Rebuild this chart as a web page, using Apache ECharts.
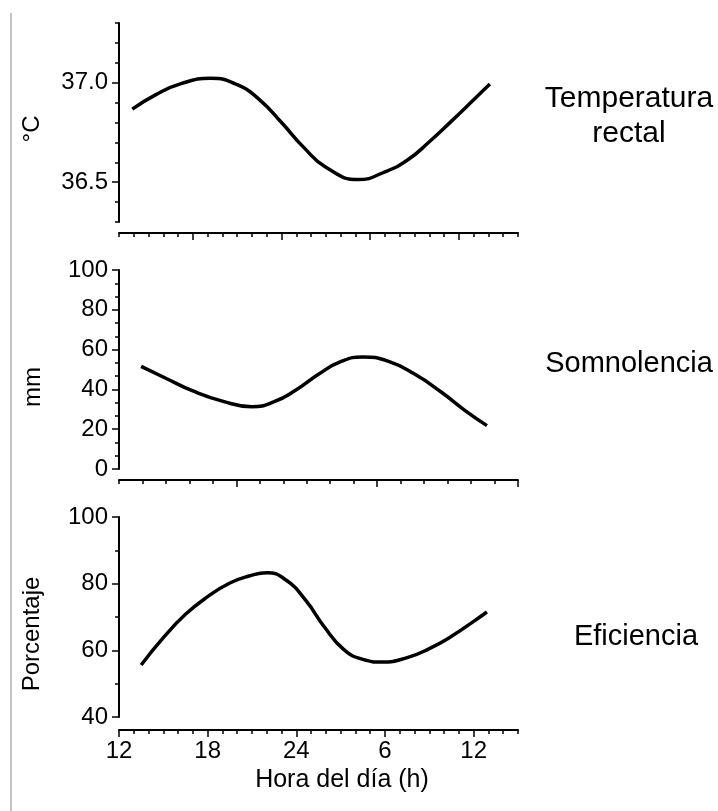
<!DOCTYPE html>
<html>
<head>
<meta charset="utf-8">
<title>Ritmos circadianos</title>
<script src="https://cdn.jsdelivr.net/npm/echarts@6/dist/echarts.min.js"></script>
<style>
  html, body { margin: 0; padding: 0; background: #fff; }
  #chart { width: 718px; height: 811px; }
</style>
</head>
<body>
<div id="chart"></div>
<script>
// horas del dia (12 = mediodia, 36 = 12 h del dia siguiente)
var tempHours = [12.9, 14.5, 16.2, 18.2, 20.0, 21.5, 23.0, 24.5, 26.0, 28.2, 30.0, 31.5, 33.0, 34.5, 36.0, 37.1];
var tempValues = [36.867, 36.94, 36.995, 37.022, 36.99, 36.915, 36.80, 36.675, 36.575, 36.513, 36.552, 36.61, 36.703, 36.807, 36.914, 36.993];

var somnHours = [13.5, 15.2, 17.0, 19.0, 21.0, 22.5, 24.0, 25.5, 27.0, 28.5, 30.2, 32.0, 33.8, 35.4, 36.9];
var somnValues = [51.6, 45.5, 39.2, 34.1, 31.3, 33.8, 39.8, 47.6, 53.9, 56.3, 54.2, 47.7, 38.7, 29.5, 21.8];

var efHours = [13.5, 15.0, 16.5, 18.0, 19.5, 20.8, 22.0, 23.3, 24.6, 25.9, 27.2, 28.5, 29.8, 31.5, 33.0, 34.5, 36.0, 36.9];
var efValues = [55.6, 63.8, 70.8, 76.1, 80.2, 82.3, 83.3, 81.1, 75.2, 67.0, 60.3, 57.3, 56.5, 57.8, 60.5, 64.2, 68.7, 71.5];

// ticks
var hourTicks = [12, 18, 24, 30, 36];
var tempMajorTicks = [36.5, 37.0];
var topMajorTicks = [17, 23, 29, 35];
var midMajorTicks = [5, 11, 17];

var font = "'Liberation Sans', Arial, sans-serif";
var black = "#000";

function pairs(xs, ys) {
  return xs.map(function (x, i) { return [x, ys[i]]; });
}

function minorX(grid, min, max, offset) {
  return {
    gridIndex: grid, type: "value", position: "bottom", min: min, max: max, interval: 1, offset: offset,
    axisLine: { show: true, onZero: false, lineStyle: { color: black, width: 2 } },
    axisTick: { show: true, length: 4, lineStyle: { color: black, width: 1.5 } },
    axisLabel: { show: false },
    splitLine: { show: false }
  };
}

function majorX(grid, min, max, offset, ticks, labels) {
  return {
    gridIndex: grid, type: "value", position: "bottom", min: min, max: max, offset: offset,
    axisLine: { show: false, onZero: false },
    axisTick: { show: true, customValues: ticks, length: 7, lineStyle: { color: black, width: 1.5 } },
    axisLabel: labels ? {
      show: true, customValues: ticks, margin: 9, fontSize: 24, fontFamily: font, color: black,
      formatter: function (v) { return String(v > 24 ? v - 24 : v); }
    } : { show: false },
    splitLine: { show: false }
  };
}

var chart = echarts.init(document.getElementById("chart"));

var option = {
  animation: false,
  backgroundColor: "#fff",
  grid: [
    { left: 119, width: 399, top: 23, height: 199 },
    { left: 119, width: 399, top: 270, height: 199 },
    { left: 119, width: 399, top: 517, height: 200 }
  ],
  xAxis: [
    minorX(0, 12, 39, 11),
    majorX(0, 12, 39, 11, topMajorTicks, false),
    { gridIndex: 1, type: "value", min: 12, max: 39, show: false },
    minorX(1, 0, 17, 11),
    majorX(1, 0, 17, 11, midMajorTicks, false),
    minorX(2, 12, 39, 13),
    majorX(2, 12, 39, 13, hourTicks, true)
  ],
  yAxis: [
    {
      gridIndex: 0, type: "value", min: 36.3, max: 37.3, interval: 0.1,
      axisLine: { show: true, onZero: false, lineStyle: { color: black, width: 2 } },
      axisTick: { show: true, length: 4, lineStyle: { color: black, width: 1.5 } },
      axisLabel: { show: false },
      splitLine: { show: false }
    },
    {
      gridIndex: 0, type: "value", position: "left", min: 36.3, max: 37.3,
      axisLine: { show: false, onZero: false },
      axisTick: { show: true, customValues: tempMajorTicks, length: 7, lineStyle: { color: black, width: 1.5 } },
      axisLabel: {
        show: true, customValues: tempMajorTicks, margin: 11, fontSize: 24, fontFamily: font, color: black,
        formatter: function (v) { return v.toFixed(1); }
      },
      splitLine: { show: false }
    },
    {
      gridIndex: 1, type: "value", min: 0, max: 100, interval: 20,
      axisLine: { show: true, onZero: false, lineStyle: { color: black, width: 2 } },
      axisTick: { show: true, length: 7, lineStyle: { color: black, width: 1.5 } },
      minorTick: { show: true, splitNumber: 3, length: 4, lineStyle: { color: black, width: 1.5 } },
      axisLabel: { margin: 11, fontSize: 24, fontFamily: font, color: black },
      splitLine: { show: false }
    },
    {
      gridIndex: 2, type: "value", min: 40, max: 100, interval: 20,
      axisLine: { show: true, onZero: false, lineStyle: { color: black, width: 2 } },
      axisTick: { show: true, length: 7, lineStyle: { color: black, width: 1.5 } },
      minorTick: { show: true, splitNumber: 2, length: 4, lineStyle: { color: black, width: 1.5 } },
      axisLabel: { margin: 11, fontSize: 24, fontFamily: font, color: black },
      splitLine: { show: false }
    }
  ],
  series: [
    {
      name: "Temperatura rectal", type: "line", xAxisIndex: 0, yAxisIndex: 0,
      data: pairs(tempHours, tempValues), smooth: 0.5, showSymbol: false,
      lineStyle: { color: black, width: 3.5 }
    },
    {
      name: "Somnolencia", type: "line", xAxisIndex: 2, yAxisIndex: 2,
      data: pairs(somnHours, somnValues), smooth: 0.5, showSymbol: false,
      lineStyle: { color: black, width: 3.5 }
    },
    {
      name: "Eficiencia", type: "line", xAxisIndex: 5, yAxisIndex: 3,
      data: pairs(efHours, efValues), smooth: 0.5, showSymbol: false,
      lineStyle: { color: black, width: 3.5 }
    }
  ],
  graphic: [
    { type: "line", shape: { x1: 11, y1: 13, x2: 11, y2: 811 }, style: { stroke: "#b0b0b0", lineWidth: 1.5 } },
    { type: "text", x: 32, y: 129, rotation: Math.PI / 2,
      style: { text: "°C", font: "24px " + font, fill: black, align: "center", verticalAlign: "middle" } },
    { type: "text", x: 33, y: 387, rotation: Math.PI / 2,
      style: { text: "mm", font: "24px " + font, fill: black, align: "center", verticalAlign: "middle" } },
    { type: "text", x: 32, y: 634, rotation: Math.PI / 2,
      style: { text: "Porcentaje", font: "24px " + font, fill: black, align: "center", verticalAlign: "middle" } },
    { type: "text", x: 342, y: 780,
      style: { text: "Hora del día (h)", font: "25px " + font, fill: black, align: "center", verticalAlign: "middle" } },
    { type: "text", x: 629, y: 116,
      style: { text: "Temperatura\nrectal", font: "30px " + font, lineHeight: 35, fill: black, align: "center", verticalAlign: "middle" } },
    { type: "text", x: 629, y: 364,
      style: { text: "Somnolencia", font: "29px " + font, fill: black, align: "center", verticalAlign: "middle" } },
    { type: "text", x: 636, y: 637,
      style: { text: "Eficiencia", font: "29px " + font, fill: black, align: "center", verticalAlign: "middle" } }
  ]
};

chart.setOption(option);
</script>
</body>
</html>
